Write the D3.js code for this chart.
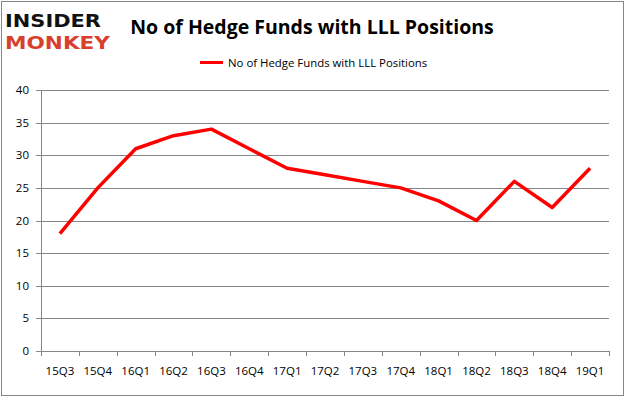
<!DOCTYPE html>
<html>
<head>
<meta charset="utf-8">
<script src="https://cdn.jsdelivr.net/npm/d3@7"></script>
<style>
  body { margin: 0; background: #fff; }
  svg { display: block; }
</style>
</head>
<body>
<div id="chart"></div>
<script>
const quarters = ["15Q3", "15Q4", "16Q1", "16Q2", "16Q3", "16Q4", "17Q1", "17Q2",
  "17Q3", "17Q4", "18Q1", "18Q2", "18Q3", "18Q4", "19Q1"];
const hedgeFunds = [18, 25, 31, 33, 34, 31, 28, 27, 26, 25, 23, 20, 26, 22, 28];
const yTicks = [0, 5, 10, 15, 20, 25, 30, 35, 40];
const seriesName = "No of Hedge Funds with LLL Positions";

const width = 626, height = 397;
const margin = { top: 90, right: 17, bottom: 46, left: 41 };

const svg = d3.select("#chart").append("svg")
  .attr("width", width)
  .attr("height", height);

// outer frame
svg.append("rect")
  .attr("x", 1.5).attr("y", 1.5)
  .attr("width", width - 4).attr("height", height - 3)
  .attr("fill", "#fff").attr("stroke", "#868686").attr("stroke-width", 1);

const x = d3.scaleBand()
  .domain(quarters)
  .range([margin.left, width - margin.right]);

const y = d3.scaleLinear()
  .domain([0, 40])
  .range([height - margin.bottom, margin.top]);

// gridlines
svg.append("g")
  .selectAll("line")
  .data(yTicks)
  .join("line")
  .attr("x1", margin.left - 5)
  .attr("x2", width - margin.right)
  .attr("y1", d => Math.round(y(d)) + 0.5)
  .attr("y2", d => Math.round(y(d)) + 0.5)
  .attr("stroke", "#868686");

// y labels
svg.append("g")
  .selectAll("text")
  .data(yTicks)
  .join("text")
  .attr("x", margin.left - 12)
  .attr("y", d => y(d) + 4)
  .attr("text-anchor", "end")
  .attr("font-family", "'Open Sans', sans-serif")
  .attr("font-size", 11.5)
  .attr("fill", "#000")
  .text(d => d);

// y axis line
svg.append("line")
  .attr("x1", margin.left + 0.5).attr("x2", margin.left + 0.5)
  .attr("y1", y(40)).attr("y2", y(0))
  .attr("stroke", "#868686");

// x ticks
const xEdges = quarters.map(q => x(q)).concat([x.range()[1]]);
svg.append("g")
  .selectAll("line")
  .data(xEdges)
  .join("line")
  .attr("x1", d => Math.round(d) + 0.5)
  .attr("x2", d => Math.round(d) + 0.5)
  .attr("y1", y(0))
  .attr("y2", y(0) + 5)
  .attr("stroke", "#868686");

// x labels
svg.append("g")
  .selectAll("text")
  .data(quarters)
  .join("text")
  .attr("x", d => x(d) + x.bandwidth() / 2)
  .attr("y", y(0) + 24)
  .attr("text-anchor", "middle")
  .attr("font-family", "'Open Sans', sans-serif")
  .attr("font-size", 11.5)
  .attr("fill", "#000")
  .text(d => d);

// the line
const line = d3.line()
  .x((d, i) => x(quarters[i]) + x.bandwidth() / 2)
  .y(d => y(d));

svg.append("path")
  .datum(hedgeFunds)
  .attr("fill", "none")
  .attr("stroke", "#ff0000")
  .attr("stroke-width", 3.5)
  .attr("stroke-linejoin", "round")
  .attr("d", line);

// title
svg.append("text")
  .attr("x", 312)
  .attr("y", 34)
  .attr("text-anchor", "middle")
  .attr("font-family", "'Open Sans', sans-serif")
  .attr("font-weight", "bold")
  .attr("font-size", 19.5)
  .attr("fill", "#000")
  .text("No of Hedge Funds with LLL Positions");

// legend
svg.append("line")
  .attr("x1", 200).attr("x2", 223)
  .attr("y1", 62.5).attr("y2", 62.5)
  .attr("stroke", "#ff0000").attr("stroke-width", 3);

svg.append("text")
  .attr("x", 228)
  .attr("y", 66.5)
  .attr("font-family", "'Open Sans', sans-serif")
  .attr("font-size", 11.4)
  .attr("fill", "#000")
  .text(seriesName);

// logo
svg.append("text")
  .attr("x", 5).attr("y", 27)
  .attr("font-family", "'DejaVu Sans', sans-serif")
  .attr("font-weight", "bold")
  .attr("font-size", 18)
  .attr("textLength", 96)
  .attr("lengthAdjust", "spacingAndGlyphs")
  .attr("fill", "#111")
  .text("INSIDER");

svg.append("text")
  .attr("x", 5).attr("y", 49)
  .attr("font-family", "'DejaVu Sans', sans-serif")
  .attr("font-weight", "bold")
  .attr("font-size", 18)
  .attr("textLength", 105)
  .attr("lengthAdjust", "spacingAndGlyphs")
  .attr("fill", "#d9402b")
  .text("MONKEY");
</script>
</body>
</html>
